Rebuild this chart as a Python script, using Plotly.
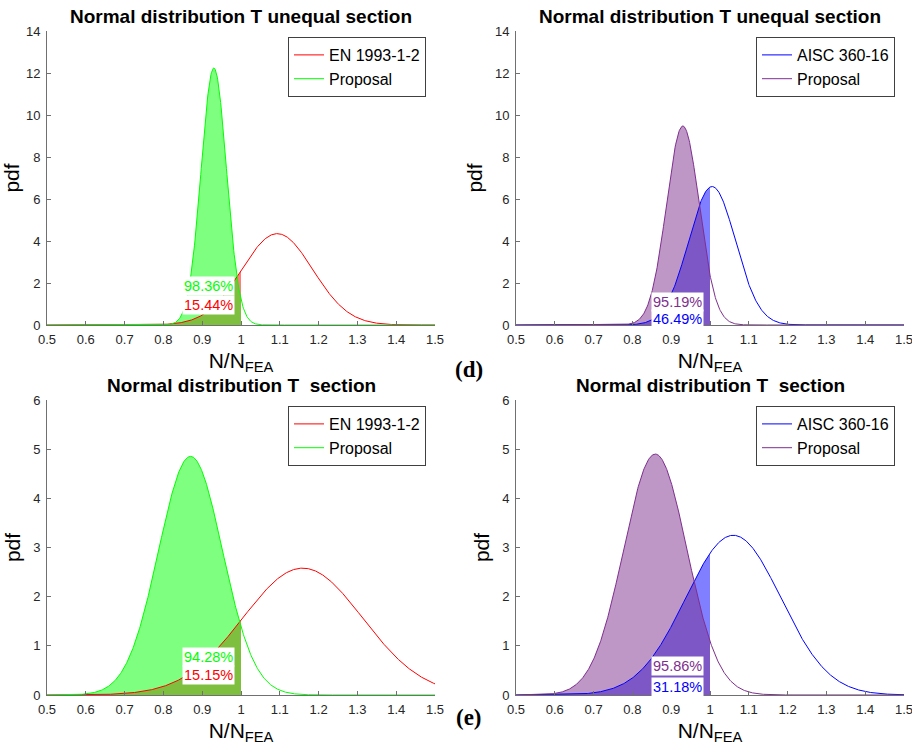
import numpy as np
import plotly.graph_objects as go

# ---- data ----
panel_titles = ["Normal distribution T unequal section", "Normal distribution T unequal section",
                "Normal distribution T  section", "Normal distribution T  section"]
code_names = ["EN 1993-1-2", "AISC 360-16", "EN 1993-1-2", "AISC 360-16"]
code_mean = [1.0934, 1.0053, 1.159, 1.060]
code_std = [0.0917, 0.0605, 0.1546, 0.1228]
prop_mean = [0.930, 0.930, 0.870, 0.859]
prop_std = [0.0326, 0.0421, 0.0822, 0.0814]
prop_pct = ["98.36%", "95.19%", "94.28%", "95.86%"]
code_pct = ["15.44%", "46.49%", "15.15%", "31.18%"]
prop_lab_y = [1.86, 1.10, 0.77, 0.59]
code_lab_y = [0.95, 0.29, 0.41, 0.16]
y_max = [14, 14, 6, 6]
y_ticks = [[0, 2, 4, 6, 8, 10, 12, 14], [0, 2, 4, 6, 8, 10, 12, 14], [0, 1, 2, 3, 4, 5, 6], [0, 1, 2, 3, 4, 5, 6]]
x_ticks = [0.5, 0.6, 0.7, 0.8, 0.9, 1.0, 1.1, 1.2, 1.3, 1.4, 1.5]
x_tick_labels = ["0.5", "0.6", "0.7", "0.8", "0.9", "1", "1.1", "1.2", "1.3", "1.4", "1.5"]
x_limit = 1.0

# ---- styles ----
code_line = ["#ff0000", "#0000ff", "#ff0000", "#0000ff"]
code_fill = ["rgba(255,0,0,0.5)", "rgba(0,0,255,0.5)", "rgba(255,0,0,0.5)", "rgba(0,0,255,0.5)"]
prop_line = ["#00ff00", "#7e2f8e", "#00ff00", "#7e2f8e"]
prop_fill = ["rgba(0,255,0,0.5)", "rgba(126,47,142,0.5)", "rgba(0,255,0,0.5)", "rgba(126,47,142,0.5)"]

W, H = 912, 747
# pixel boxes: (left, right, top, bottom)
boxes = [(47, 435, 31, 325), (516, 904, 31, 325), (47, 435, 400, 695), (516, 904, 400, 695)]


def pdf(x, m, s):
    return np.exp(-0.5 * ((x - m) / s) ** 2) / (s * np.sqrt(2 * np.pi))


fig = go.Figure()
xs = np.linspace(0.5, 1.5, 801)
xf = np.linspace(0.5, x_limit, 401)
font = "Arial, Liberation Sans, sans-serif"

for i in range(4):
    ax = "" if i == 0 else str(i + 1)
    xa, ya = "x" + ax, "y" + ax
    lg = "legend" if i == 0 else "legend" + str(i + 1)
    # fills (code first, proposal on top)
    fig.add_trace(go.Scatter(x=xf, y=pdf(xf, code_mean[i], code_std[i]), mode="lines",
                             line=dict(width=0, color=code_fill[i]), fill="tozeroy",
                             fillcolor=code_fill[i], showlegend=False, hoverinfo="skip",
                             xaxis=xa, yaxis=ya))
    fig.add_trace(go.Scatter(x=xf, y=pdf(xf, prop_mean[i], prop_std[i]), mode="lines",
                             line=dict(width=0, color=prop_fill[i]), fill="tozeroy",
                             fillcolor=prop_fill[i], showlegend=False, hoverinfo="skip",
                             xaxis=xa, yaxis=ya))
    # curves
    fig.add_trace(go.Scatter(x=xs, y=pdf(xs, code_mean[i], code_std[i]), mode="lines",
                             line=dict(width=1, color=code_line[i]), name=code_names[i],
                             legend=lg, xaxis=xa, yaxis=ya))
    fig.add_trace(go.Scatter(x=xs, y=pdf(xs, prop_mean[i], prop_std[i]), mode="lines",
                             line=dict(width=1, color=prop_line[i]), name="Proposal",
                             legend=lg, xaxis=xa, yaxis=ya))

    l, r, t, b = boxes[i]
    dom_x = [l / W, r / W]
    dom_y = [1 - b / H, 1 - t / H]
    axis_common = dict(showgrid=False, zeroline=False, showline=True, linecolor="#707070",
                       linewidth=1, ticks="inside", ticklen=4, tickcolor="#707070", automargin=False,
                       ticklabeloverflow="allow",
                       tickfont=dict(family=font, size=13, color="#262626"))
    fig.layout["xaxis" + ax] = dict(domain=dom_x, anchor=ya, range=[0.5, 1.5],
                                    tickvals=x_ticks, ticktext=x_tick_labels, ticklabelstandoff=2,
                                    title=dict(text="N/N<sub>FEA</sub>",
                                               font=dict(family=font, size=21, color="#000"),
                                               standoff=7),
                                    **axis_common)
    fig.layout["yaxis" + ax] = dict(domain=dom_y, anchor=xa, range=[0, y_max[i]],
                                    tickvals=y_ticks[i], ticklabelstandoff=3,
                                    title=dict(text="pdf", font=dict(family=font, size=21, color="#000"),
                                               standoff=6),
                                    **axis_common)
    fig.layout[lg] = dict(x=(r - 9) / W, y=1 - (t + 6) / H, xanchor="right", yanchor="top",
                          bgcolor="white", bordercolor="#404040", borderwidth=1,
                          font=dict(family=font, size=16, color="#000"), tracegroupgap=0)
    # title
    fig.add_annotation(x=(l + r) / 2 / W, y=1 - (t - 15) / H, xref="paper", yref="paper",
                       text="<b>" + panel_titles[i] + "</b>", showarrow=False,
                       font=dict(family=font, size=19, color="#000"), xanchor="center", yanchor="middle")
    # percentage labels
    fig.add_annotation(x=0.985, y=prop_lab_y[i], xref=xa, yref=ya, text=prop_pct[i], showarrow=False,
                       xanchor="right", yanchor="middle", bgcolor="white", borderpad=1,
                       font=dict(family=font, size=14.5, color=prop_line[i]))
    fig.add_annotation(x=0.985, y=code_lab_y[i], xref=xa, yref=ya, text=code_pct[i], showarrow=False,
                       xanchor="right", yanchor="middle", bgcolor="white", borderpad=1,
                       font=dict(family=font, size=14.5, color=code_line[i]))

# panel letters
fig.add_annotation(x=469 / W, y=1 - 370 / H, xref="paper", yref="paper", text="<b>(d)</b>",
                   showarrow=False, font=dict(family="Liberation Serif, Times New Roman, serif", size=23, color="#000"))
fig.add_annotation(x=469 / W, y=1 - 732 / H, xref="paper", yref="paper", text="<b>(e)</b>",
                   showarrow=False, font=dict(family="Liberation Serif, Times New Roman, serif", size=23, color="#000"))

fig.update_layout(width=W, height=H, margin=dict(l=0, r=0, t=0, b=0),
                  plot_bgcolor="white", paper_bgcolor="white")

fig.write_html("out.html")
